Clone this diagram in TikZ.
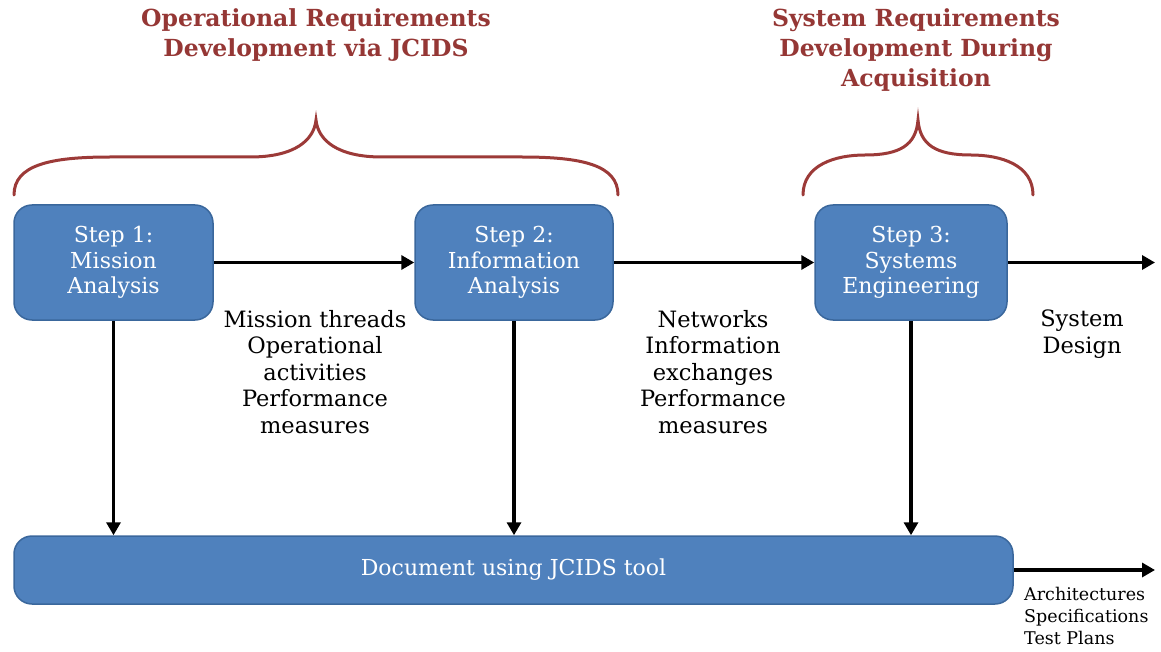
\documentclass[tikz,border=0pt]{standalone}
\usepackage{fontspec}
\setmainfont{DejaVu Serif}
\usetikzlibrary{arrows.meta}
\definecolor{boxblue}{HTML}{4F81BD}
\definecolor{boxedge}{HTML}{3A679C}
\definecolor{titlered}{HTML}{953735}
\definecolor{bracered}{HTML}{9C3A38}
\begin{document}
\begin{tikzpicture}[x=1pt,y=-1pt,
  stepbox/.style={draw=boxedge, line width=1.5pt, fill=boxblue, rounded corners=18pt,
    text=white, align=center, font=\fontsize{22}{25.5}\selectfont,
    minimum height=115pt, inner sep=0pt},
  arr/.style={line width=3.5pt, -{Triangle[length=13pt,width=14pt]}},
  lbl/.style={align=center, font=\fontsize{22.5}{26.5}\selectfont, text=black},
  small/.style={align=left, font=\fontsize{17.5}{22}\selectfont, text=black, inner sep=0pt},
  ttl/.style={align=center, font=\bfseries\fontsize{23.5}{30}\selectfont, text=titlered},
  brace/.style={draw=bracered, line width=3pt, line cap=round}
]
\useasboundingbox (0,0) rectangle (1161,652);
% titles
\node[ttl] (t1) at (316,35) {Operational Requirements\\Development via JCIDS};
\node[ttl] (t2) at (916,50) {System Requirements\\Development During\\Acquisition};
% braces
\draw[brace] (14,195) .. controls (14,165) and (50,157) .. (110,157) -- (250,157)
  .. controls (295,157) and (314,140) .. (316,120)
  .. controls (318,140) and (337,157) .. (382,157) -- (522,157)
  .. controls (582,157) and (618,165) .. (618,195);
\draw[brace] (803,195) .. controls (803,165) and (835,155) .. (865,155)
  .. controls (900,155) and (916,145) .. (918,120)
  .. controls (920,145) and (936,155) .. (971,155)
  .. controls (1001,155) and (1033,165) .. (1033,195);
% step boxes
\node[stepbox, minimum width=199pt] (s1) at (113.5,262.5) {Step 1:\\Mission\\Analysis};
\node[stepbox, minimum width=198pt] (s2) at (514,262.5) {Step 2:\\Information\\Analysis};
\node[stepbox, minimum width=192pt] (s3) at (911,262.5) {Step 3:\\Systems\\Engineering};
\node[stepbox, minimum width=999pt, minimum height=68pt] (doc) at (513.5,570) {Document using JCIDS tool};
% connectors
\coordinate (out1) at (1155,262.5);
\coordinate (out2) at (1155,570);
\draw[arr] (s1.east) -- (s2.west);
\draw[arr] (s2.east) -- (s3.west);
\draw[arr] (s3.east) -- (out1);
\draw[arr] (s1.south) -- (s1.south |- doc.north);
\draw[arr] (s2.south) -- (s2.south |- doc.north);
\draw[arr] (s3.south) -- (s3.south |- doc.north);
\draw[arr] (doc.east) -- (out2);
% labels
\node[lbl] (l1) at (315,372) {Mission threads\\Operational\\activities\\Performance\\measures};
\node[lbl] (l2) at (713,372) {Networks\\Information\\exchanges\\Performance\\measures};
\node[lbl] (l3) at (1082,334) {System\\Design};
\node[small, anchor=north west] (l4) at (1024,587) {Architectures\\Specifications\\Test Plans};
\end{tikzpicture}
\end{document}
